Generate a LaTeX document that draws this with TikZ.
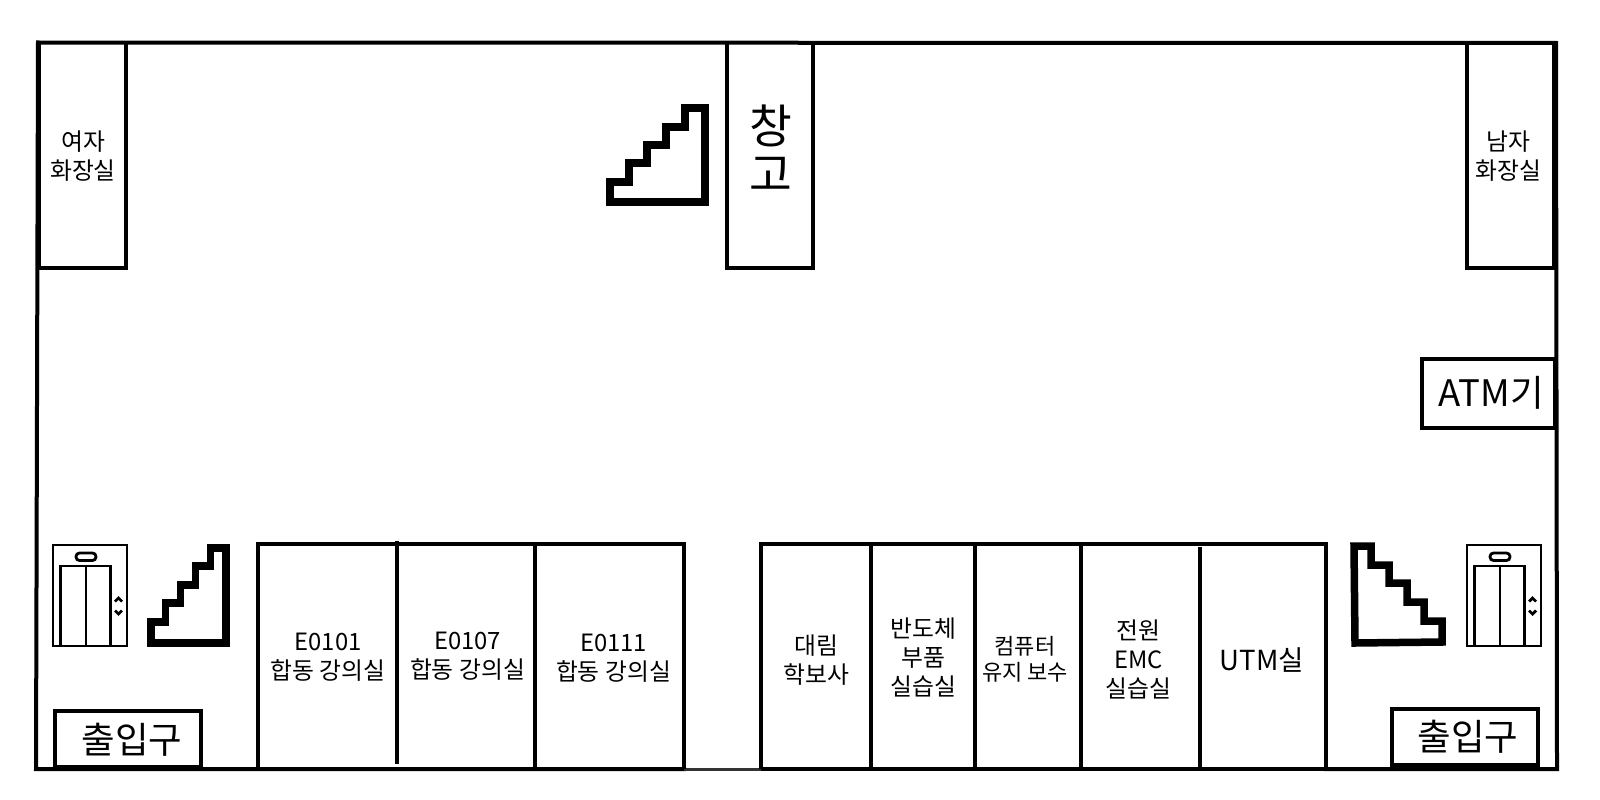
\documentclass[tikz,border=0pt]{standalone}
\usepackage{fontspec}
\setmainfont{Noto Sans CJK KR}
\tikzset{
  wall/.style={line width=4pt,line join=miter},
  thinwall/.style={line width=2.8pt},
  stairs/.style={line width=7.5pt,line join=miter},
  roomlabel/.style={align=center,inner sep=0pt,font=\fontsize{23.8}{29}\selectfont},
  biglabel/.style={inner sep=0pt,font=\fontsize{36.5}{40}\selectfont},
}
\begin{document}
\begin{tikzpicture}[x=1pt,y=-1pt]
  \useasboundingbox (0,0) rectangle (1600,800);
  % outer walls
  \draw[wall,line cap=rect] (684,769) -- (36,769) -- (38,42.5) -- (1556,43) -- (1557,769) -- (1326,769);
  \draw[wall] (761,769) -- (1326,769);
  \draw[line width=2.6pt,black!80] (684,769.5) -- (761,769.5);
  % top rooms
  \draw[wall,line width=5pt] (38,42.5) -- (38,268);
  \draw[wall] (36,268) -- (126,268) -- (126,42.5);
  \draw[wall] (1467,43) -- (1467,268) -- (1555,268);
  \draw[wall,line width=6pt] (1555,43) -- (1555,268);
  \draw[wall] (727,43) -- (727,268) -- (813,268) -- (813,43);
  \node (womenwc) [roomlabel] at (83,156) {여자\\화장실};
  \node (menwc) [roomlabel] at (1508.5,156) {남자\\화장실};
  \node (storage) [align=center,inner sep=0pt,font=\fontsize{46.5}{48}\selectfont] at (771,148) {창\\고};
  % lecture rooms
  \draw[wall] (258,769) -- (258,544) -- (684,544) -- (684,769);
  \draw[wall] (397,541) -- (397,764);
  \draw[wall] (535,544) -- (535,769);
  \node (e0101) [roomlabel] at (328,657) {E0101\\합동 강의실};
  \node (e0107) [roomlabel] at (467.5,656.5) {E0107\\합동 강의실};
  \node (e0111) [roomlabel] at (613.5,658.5) {E0111\\합동 강의실};
  % labs
  \draw[wall] (761,769) -- (761,544) -- (1326,544) -- (1326,769);
  \foreach \wx in {871,975,1081} {
    \draw[wall] (\wx,544) -- (\wx,769);
  }
  \draw[wall] (1200,547) -- (1200,769);
  \node (daerim) [roomlabel] at (816.5,660) {대림\\학보사};
  \node (parts) [roomlabel] at (923.5,657) {반도체\\부품\\실습실};
  \node (computer) [roomlabel,font=\fontsize{22}{26}\selectfont] at (1025,659) {컴퓨터\\유지 보수};
  \node (emc) [roomlabel] at (1138.5,659) {전원\\EMC\\실습실};
  \node (utm) [inner sep=0pt,font=\fontsize{27.6}{32}\selectfont] at (1262,660) {UTM실};
  % ATM
  \draw[wall] (1422,359) rectangle (1555,428);
  \node (atm) [biglabel] at (1491,393) {ATM기};
  % entrances
  \draw[wall] (55,711) rectangle (201,767);
  \node (doorleft) [biglabel] at (132,740) {출입구};
  \draw[wall] (1392,709) rectangle (1538,765);
  \node (doorright) [biglabel] at (1468,737) {출입구};
  % stairs
  \draw[stairs] (610,202) -- (705,202) -- (705,108) -- (685,108) -- (685,127) -- (666,127)
    -- (666,145) -- (647,145) -- (647,163) -- (629,163) -- (629,182) -- (610,182) -- cycle;
  \draw[stairs] (151,643) -- (226,643) -- (226,548) -- (210.5,548) -- (210.5,566) -- (195.5,566)
    -- (195.5,585) -- (180.5,585) -- (180.5,603) -- (165.5,603) -- (165.5,622) -- (151,622) -- cycle;
  \draw[stairs] (1354,546) -- (1371,546) -- (1371,565) -- (1389,565) -- (1389,583) -- (1407,583)
    -- (1407,602) -- (1424,602) -- (1424,621) -- (1442,621) -- (1442,642) -- (1355,643) -- cycle;
  % elevators
  \foreach \lx in {0,1414} {
    \begin{scope}[xshift=\lx pt]
      \draw[thinwall] (53,545) rectangle (127,646);
      \draw[thinwall] (60.5,646) -- (60.5,566) -- (110.5,566) -- (110.5,646);
      \draw[thinwall] (86,566) -- (86,646);
      \draw[thinwall,rounded corners=3.5pt] (76,553) rectangle (96,560.5);
      \draw[thinwall] (115,601.5) -- (118.5,598) -- (122,601.5);
      \draw[thinwall] (115,610.5) -- (118.5,614) -- (122,610.5);
    \end{scope}
  }
\end{tikzpicture}
\end{document}
